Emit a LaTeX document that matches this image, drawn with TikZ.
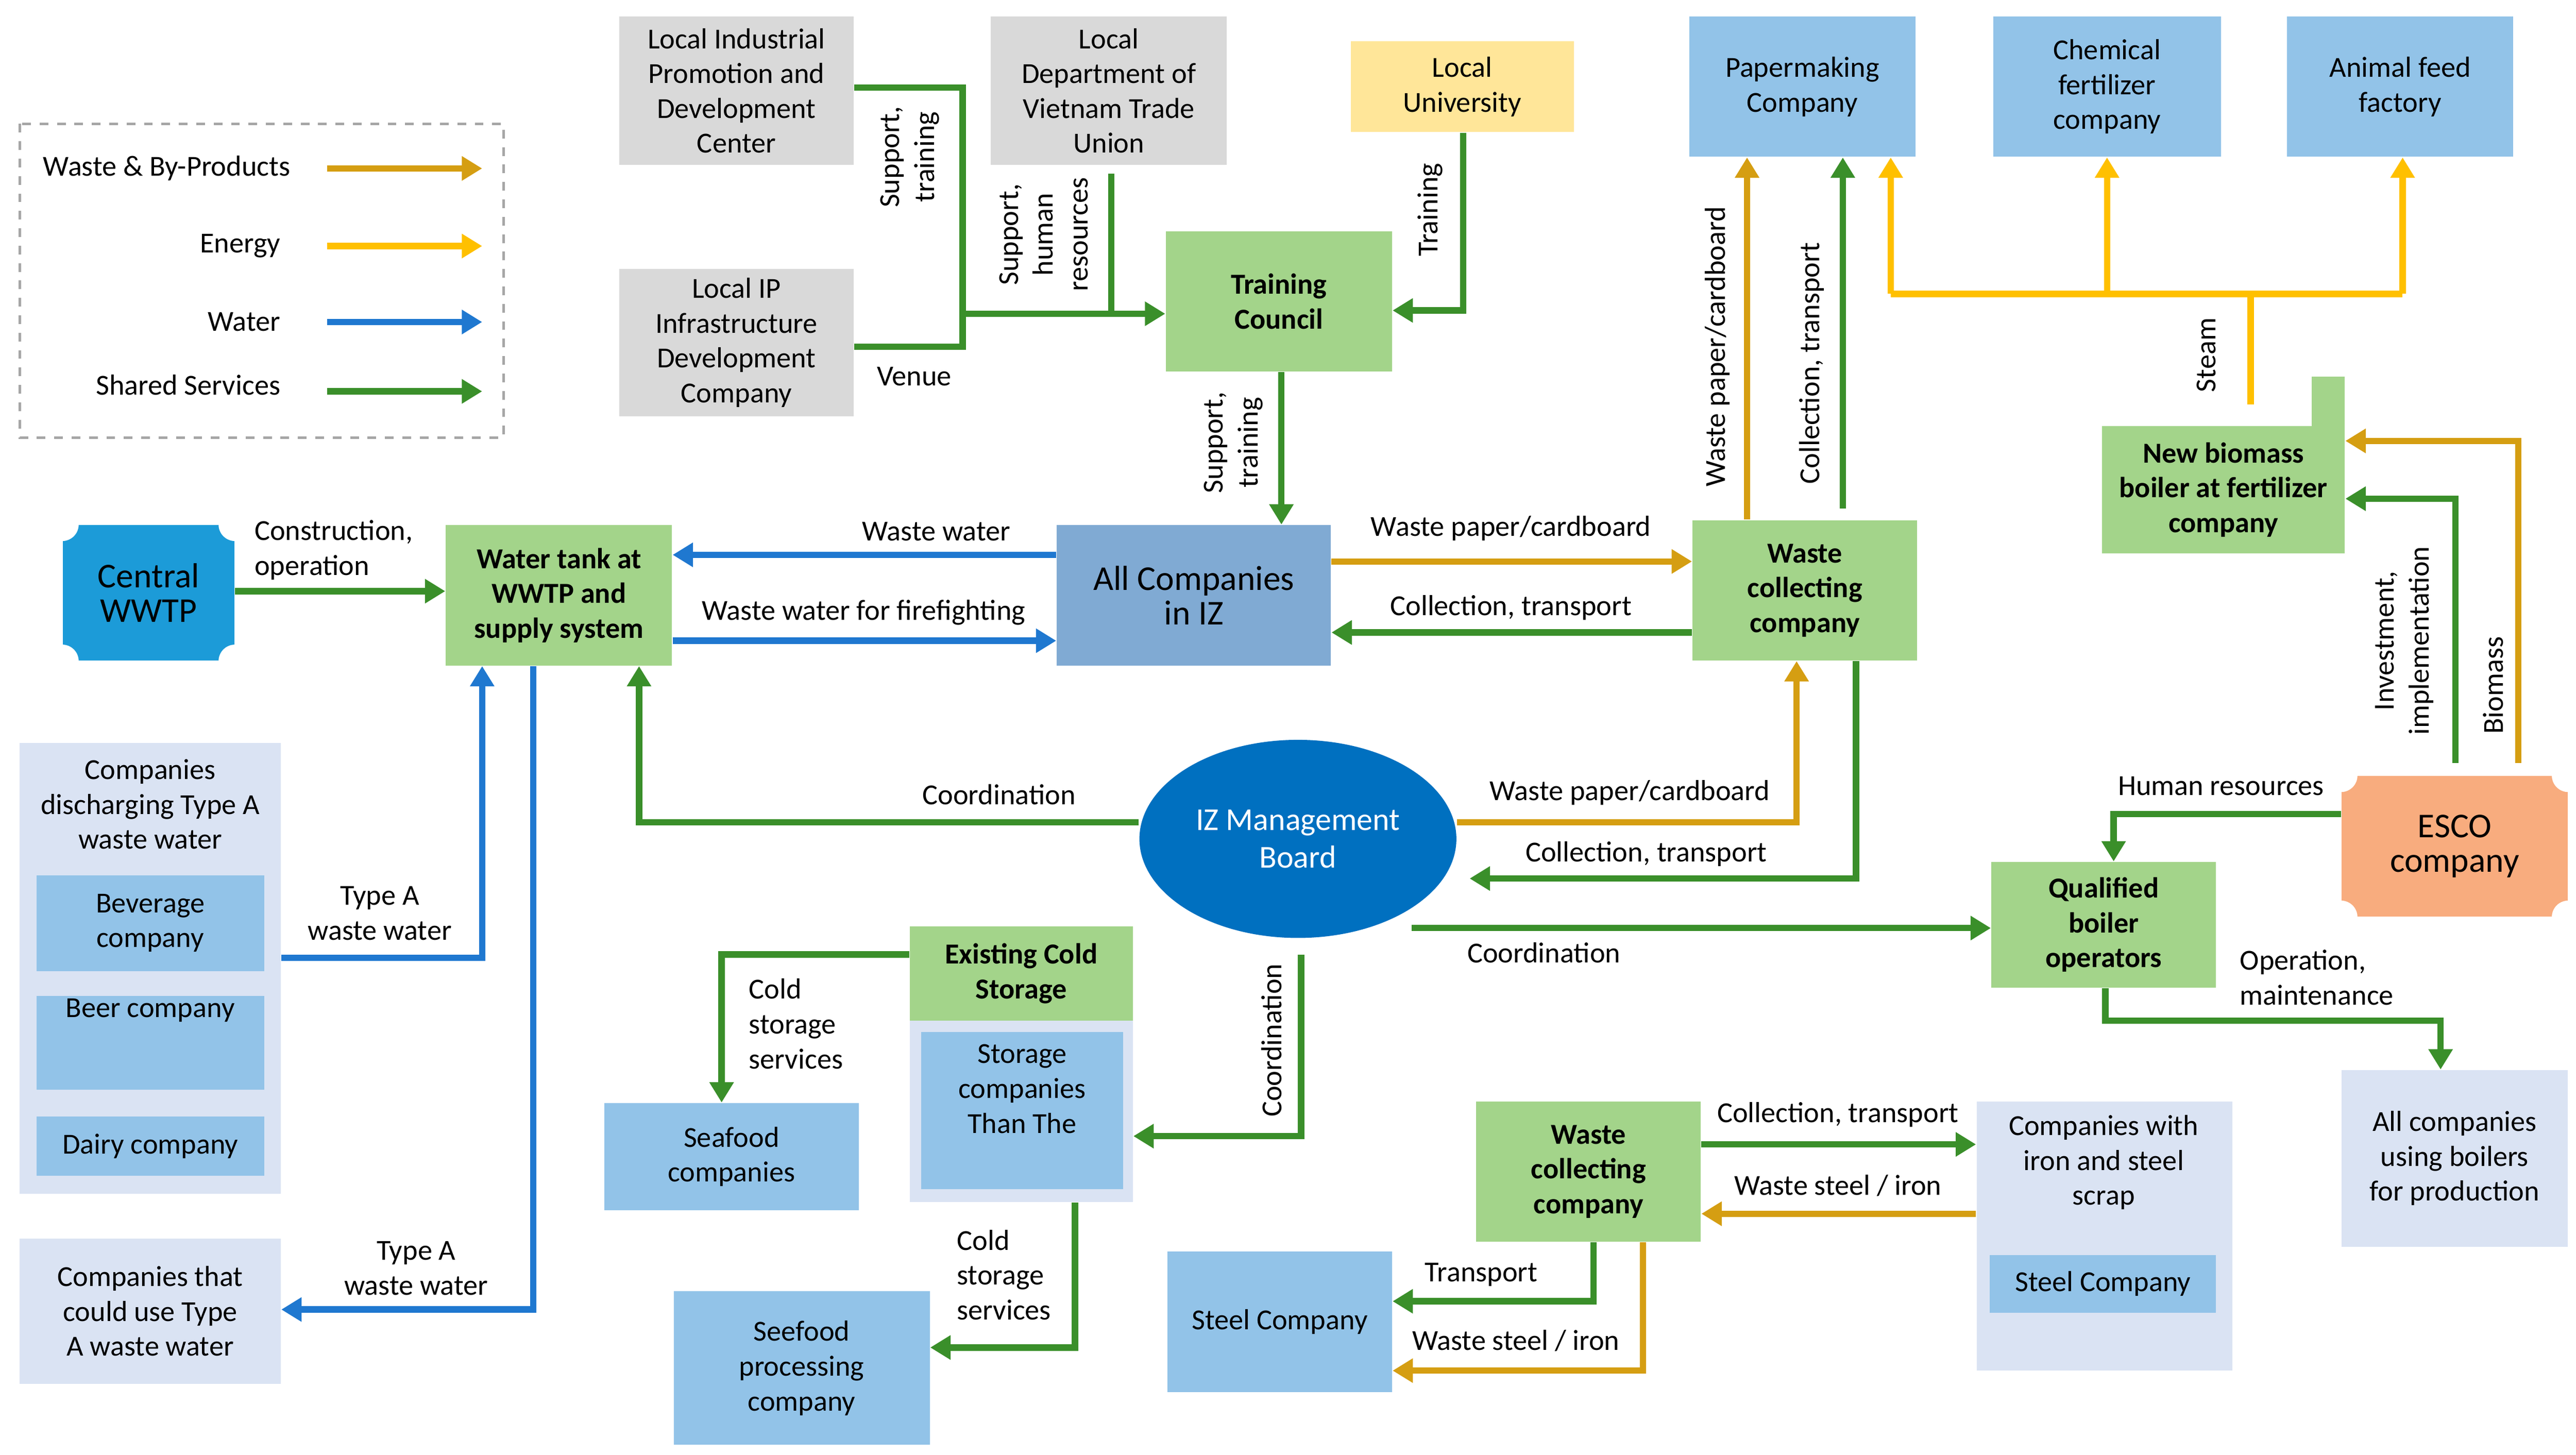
\documentclass[tikz,border=0pt]{standalone}
\usepackage{fontspec}
\setmainfont{Carlito}
\usetikzlibrary{arrows.meta,shapes.geometric}
\definecolor{grn}{HTML}{A3D48A}
\definecolor{blu}{HTML}{92C3E8}
\definecolor{gry}{HTML}{D9D9D9}
\definecolor{yel}{HTML}{FFE699}
\definecolor{lbl}{HTML}{DAE3F3}
\definecolor{allc}{HTML}{80AAD3}
\definecolor{wwtp}{HTML}{1C9BD8}
\definecolor{izb}{HTML}{0070C0}
\definecolor{esc}{HTML}{F8AC7E}
\definecolor{aOr}{HTML}{D59E12}
\definecolor{aYe}{HTML}{FFC000}
\definecolor{aBl}{HTML}{1F78D0}
\definecolor{aGr}{HTML}{3A8F2A}
\tikzset{
  every node/.style={font=\fontsize{10}{12}\selectfont, align=center},
  ar/.style={line width=2.2pt, -{Triangle[length=7pt,width=8pt]}},
  wst/.style={ar, draw=aOr}, nrg/.style={ar, draw=aYe},
  wat/.style={ar, draw=aBl}, srv/.style={ar, draw=aGr},
  lab/.style={inner sep=1pt},
}
% \bx{name}{x1}{y1}{x2}{y2}{fill}{text}
\newcommand{\bx}[7]{\node[fill=#6, minimum width={(#4-#2)*0.02cm}, minimum height={(#5-#3)*0.02cm}, inner sep=0pt] (#1) at ({(#2+#4)/2},{(#3+#5)/2}) {#7};}
\begin{document}
\begin{tikzpicture}[x=0.02cm,y=-0.02cm]
\useasboundingbox (0,0) rectangle (1560,881);
% groups
\bx{grpA}{12}{450}{170}{723}{lbl}{}
\node at (91,487) {Companies\\discharging Type A\\waste water};
\bx{grpC}{551}{561}{686}{728}{lbl}{}
\bx{grpS}{1197}{667}{1352}{830}{lbl}{}
\node at (1274,704) {Companies with\\iron and steel\\scrap};
% boxes
\bx{lipd}{375}{10}{517}{100}{gry}{Local Industrial\\Promotion and\\Development\\Center}
\bx{dvtu}{600}{10}{743}{100}{gry}{Local\\Department of\\Vietnam Trade\\Union}
\bx{univ}{818}{25}{953}{80}{yel}{Local\\University}
\bx{pap}{1023}{10}{1160}{95}{blu}{Papermaking\\Company}
\bx{chem}{1207}{10}{1345}{95}{blu}{Chemical\\fertilizer\\company}
\bx{feed}{1385}{10}{1522}{95}{blu}{Animal feed\\factory}
\bx{lipi}{375}{163}{517}{252}{gry}{Local IP\\Infrastructure\\Development\\Company}
\bx{tc}{706}{140}{843}{225}{grn}{\textbf{Training}\\\textbf{Council}}
\bx{cw}{38}{318}{142}{400}{wwtp}{\fontsize{12}{14}\selectfont Central\\\fontsize{12}{14}\selectfont WWTP}
\foreach \c in {north west,north east,south west,south east}\fill[white] (cw.\c) circle (0.2cm);
\bx{wt}{270}{318}{407}{403}{grn}{\textbf{Water tank at}\\\textbf{WWTP and}\\\textbf{supply system}}
\bx{all}{640}{318}{806}{403}{allc}{\fontsize{12}{14}\selectfont All Companies\\\fontsize{12}{14}\selectfont in IZ}
\bx{wc}{1025}{315}{1161}{400}{grn}{\textbf{Waste}\\\textbf{collecting}\\\textbf{company}}
\fill[grn] (1400,228) rectangle (1420,262);
\bx{nb}{1273}{258}{1420}{335}{grn}{\textbf{New biomass}\\\textbf{boiler at fertilizer}\\\textbf{company}}
\bx{esco}{1418}{470}{1555}{555}{esc}{\fontsize{12}{14}\selectfont ESCO\\\fontsize{12}{14}\selectfont company}
\foreach \c in {north west,north east,south west,south east}\fill[white] (esco.\c) circle (0.2cm);
\bx{qbo}{1206}{522}{1342}{598}{grn}{\textbf{Qualified}\\\textbf{boiler}\\\textbf{operators}}
\bx{aub}{1418}{648}{1555}{755}{lbl}{All companies\\using boilers\\for production}
\node[ellipse, fill=izb, text=white, minimum width=3.84cm, minimum height=2.4cm, font=\fontsize{11}{13}\selectfont] (iz) at (786,508) {IZ Management\\Board};
\bx{bev}{22}{530}{160}{588}{blu}{Beverage\\company}
\bx{beer}{22}{603}{160}{660}{blu}{Beer company\\[1.2em]}
\bx{dairy}{22}{676}{160}{712}{blu}{Dairy company}
\bx{use}{12}{750}{170}{838}{lbl}{Companies that\\could use Type\\A waste water}
\bx{ecs}{551}{561}{686}{618}{grn}{\textbf{Existing Cold}\\\textbf{Storage}}
\bx{stc}{558}{625}{680}{720}{blu}{Storage\\companies\\Than The\\[0.3em]}
\bx{sfc}{366}{668}{520}{733}{blu}{Seafood\\companies}
\bx{sfp}{408}{782}{563}{875}{blu}{Seefood\\processing\\company}
\bx{wc2}{894}{667}{1030}{752}{grn}{\textbf{Waste}\\\textbf{collecting}\\\textbf{company}}
\bx{stl}{707}{758}{843}{843}{blu}{Steel Company}
\bx{stl2}{1205}{760}{1342}{795}{blu}{Steel Company}
% legend
\draw[gray!70, dashed, line width=1pt] (12,75) rectangle (305,265);
\node[anchor=east] at (182,102) {Waste \& By-Products};
\node[anchor=east] at (176,149) {Energy};
\node[anchor=east] at (176,195) {Water};
\node[anchor=east] at (176,233) {Shared Services};
\coordinate (l1) at (198,102); \coordinate (l2) at (198,149);
\coordinate (l3) at (198,195); \coordinate (l4) at (198,237);
\draw[wst] (l1) -- ++(94,0); \draw[nrg] (l2) -- ++(94,0);
\draw[wat] (l3) -- ++(94,0); \draw[srv] (l4) -- ++(94,0);
% training
\draw[aGr, line width=2.2pt] (lipd.east|-0,53) -- (583,53) -- (583,190);
\draw[aGr, line width=2.2pt] (lipi.east|-0,210) -- (583,210) -- (583,190);
\draw[srv] (583,190) -- (tc.west|-0,190);
\draw[aGr, line width=2.2pt] (673,105) -- (673,190);
\node[rotate=90, lab] at (551,95) {Support,\\training};
\node[anchor=west] at (525,228) {Venue};
\node[rotate=90, lab] at (632,142) {Support,\\human\\resources};
\draw[srv] (univ.south-|886,0) -- (886,188) -- (tc.east|-0,188);
\node[rotate=90] at (866,127) {Training};
\draw[srv] (tc.south-|776,0) -- (all.north-|776,0);
\node[rotate=90] at (747,268) {Support,\\training};
% water
\draw[srv] (cw.east|-0,358) -- (wt.west|-0,358);
\node[anchor=west, align=left] at (148,333) {Construction,\\operation};
\draw[wat] (all.west|-0,336) -- (wt.east|-0,336);
\node at (567,322) {Waste water};
\draw[wat] (wt.east|-0,388) -- (all.west|-0,388);
\node at (523,371) {Waste water for firefighting};
\draw[wat] (grpA.east|-0,580) -- (292,580) -- (wt.south-|292,0);
\node at (230,553) {Type A\\waste water};
\draw[wat] (wt.south-|323,0) -- (323,793) -- (use.east|-0,793);
\node at (252,768) {Type A\\waste water};
% paper
\draw[wst] (all.east|-0,340) -- (wc.west|-0,340);
\node at (915,320) {Waste paper/cardboard};
\draw[srv] (wc.west|-0,383) -- (all.east|-0,383);
\node at (915,368) {Collection, transport};
\draw[wst] (wc.north-|1058,0) -- (pap.south-|1058,0);
\node[rotate=90] at (1040,210) {Waste paper/cardboard};
\draw[srv] (1116,308) -- (pap.south-|1116,0);
\node[rotate=90] at (1097,220) {Collection, transport};
% steam
\draw[aYe, line width=2.2pt] (1363,245) -- (1363,178);
\draw[aYe, line width=2.2pt] (1145,178) -- (1455,178);
\draw[nrg] (1145,178) -- (pap.south-|1145,0);
\draw[nrg] (1276,178) -- (chem.south-|1276,0);
\draw[nrg] (1455,178) -- (feed.south-|1455,0);
\node[rotate=90] at (1336,215) {Steam};
% esco
\draw[wst] (1525,462) -- (1525,267) -- (nb.east|-0,267);
\node[rotate=90] at (1510,415) {Biomass};
\draw[srv] (1487,462) -- (1487,302) -- (nb.east|-0,302);
\node[rotate=90] at (1456,388) {Investment,\\implementation};
\draw[srv] (esco.west|-0,493) -- (1280,493) -- (qbo.north-|1280,0);
\node at (1345,476) {Human resources};
\draw[srv] (qbo.south-|1275,0) -- (1275,618) -- (1478,618) -- (aub.north-|1478,0);
\node[align=left] at (1403,592) {Operation,\\maintenance};
% IZ board
\draw[srv] (855,562) -- (qbo.west|-0,562);
\node at (935,577) {Coordination};
\draw[srv] (iz.west|-0,498) -- (387,498) -- (wt.south-|387,0);
\node at (605,481) {Coordination};
\draw[wst] (iz.east|-0,498) -- (1088,498) -- (wc.south-|1088,0);
\node at (987,480) {Waste paper/cardboard};
\draw[srv] (wc.south-|1124,0) -- (1124,532) -- (890,532);
\node at (997,517) {Collection, transport};
\draw[srv] (788,578) -- (788,688) -- (grpC.east|-0,688);
\node[rotate=90] at (770,630) {Coordination};
% cold storage
\draw[srv] (ecs.west|-0,578) -- (437,578) -- (sfc.north-|437,0);
\node[align=left] at (482,620) {Cold\\storage\\services};
\draw[srv] (grpC.south-|651,0) -- (651,816) -- (sfp.east|-0,816);
\node[align=left] at (608,772) {Cold\\storage\\services};
% steel
\draw[srv] (wc2.east|-0,693) -- (grpS.west|-0,693);
\node at (1113,675) {Collection, transport};
\draw[wst] (grpS.west|-0,735) -- (wc2.east|-0,735);
\node at (1113,718) {Waste steel / iron};
\draw[srv] (wc2.south-|965,0) -- (965,788) -- (stl.east|-0,788);
\node at (897,772) {Transport};
\draw[wst] (wc2.south-|995,0) -- (995,830) -- (stl.east|-0,830);
\node at (918,812) {Waste steel / iron};
\end{tikzpicture}
\end{document}
